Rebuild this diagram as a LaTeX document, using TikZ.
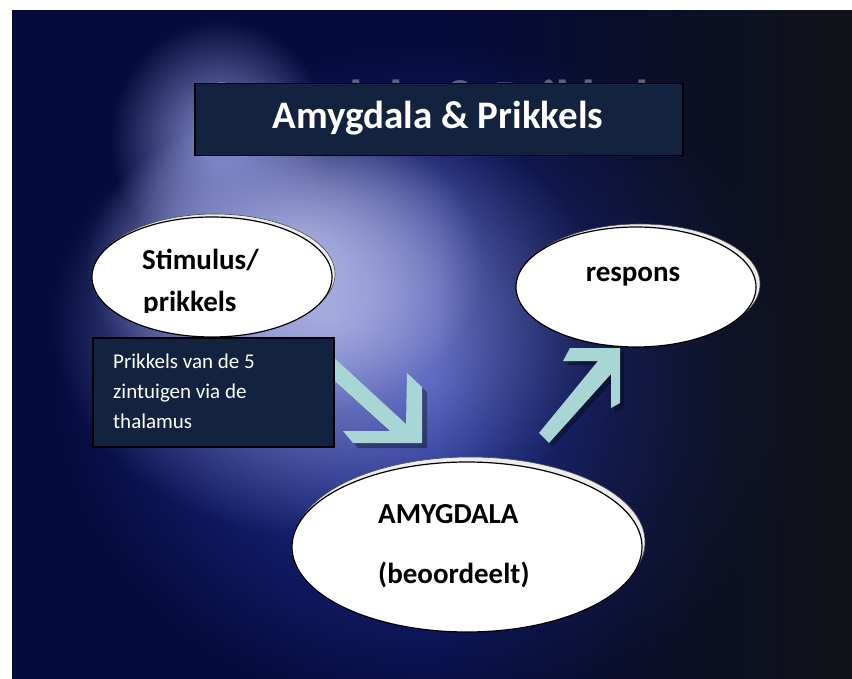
\documentclass[tikz,border=0pt]{standalone}
\usepackage{fontspec}
\setmainfont{Carlito}
\usetikzlibrary{shapes.geometric,fadings}
\definecolor{achtergrond}{HTML}{050B3C}
\definecolor{kader}{HTML}{13233F}
\definecolor{pijl}{HTML}{A8D6D4}
\definecolor{lila}{HTML}{B4B8E6}
\definecolor{blauw}{HTML}{2536A8}
\definecolor{zwart}{HTML}{111317}
\tikzfading[name=gloed, inner color=transparent!0, outer color=transparent!100]
\tikzfading[name=naarrechts, left color=transparent!100, right color=transparent!0]
\tikzset{
  bol/.style={ellipse, draw=black, line width=1.2pt, fill=white, inner sep=0pt},
  schaduw/.style={ellipse, fill=white!85!gray, draw=black!70, line width=0.6pt, inner sep=0pt},
  vak/.style={draw=black, line width=1.5pt, fill=kader, inner sep=0pt, anchor=north west},
  tekst/.style={font=\bfseries\fontsize{29}{34}\selectfont, anchor=base west, inner sep=0pt},
  kleintekst/.style={font=\fontsize{21}{25}\selectfont, text=white, anchor=base west, inner sep=0pt},
}
\begin{document}
\begin{tikzpicture}[x=1pt,y=-1pt]
\useasboundingbox (0,0) rectangle (852,679);
\begin{scope}
\clip (12,10) rectangle (852,679);
\fill[achtergrond] (12,10) rectangle (852,679);
\fill[blauw, path fading=gloed] (430,380) ellipse (380 and 340);
\fill[lila!75!blauw, path fading=gloed] (330,320) ellipse (280 and 220);
\fill[lila, path fading=gloed] (285,265) ellipse (200 and 150);
\fill[lila!70!blauw, path fading=gloed] (220,140) ellipse (110 and 120);
\fill[zwart, path fading=naarrechts] (440,10) rectangle (852,679);
\end{scope}
\node[font=\bfseries\fontsize{55}{60}\selectfont, text=white, opacity=.35, anchor=base] (oudetitel) at (438,119) {Amygdala \& Prikkels};

\fill[black, opacity=.35, shift={(5,5)}] (422,443) -- (422,387) -- (407,373) -- (406,424) -- (318,343) -- (318,366) -- (390,431) -- (343,431) -- (353,443) -- cycle;
\fill[pijl] (422,443) -- (422,387) -- (407,373) -- (406,424) -- (318,343) -- (318,366) -- (390,431) -- (343,431) -- (353,443) -- cycle;
\fill[black, opacity=.35, shift={(4,4)}] (620,348) -- (570,348) -- (563,361) -- (598,361) -- (539,433) -- (549,443) -- (611,374) -- (611,408) -- (620,403) -- cycle;
\fill[pijl] (620,348) -- (570,348) -- (563,361) -- (598,361) -- (539,433) -- (549,443) -- (611,374) -- (611,408) -- (620,403) -- cycle;

\node[schaduw, minimum width=240, minimum height=120] (stimulusschaduw) at (215,274){};
\node[bol, minimum width=240, minimum height=120] (stimulus) at (212,277){};
\begin{scope}
\clip (130,230) rectangle (300,313);
\node[tekst] (stimulustekst) at (142,270) {Stimulus/};
\node[tekst] (prikkelstekst) at (143,312) {prikkels};
\end{scope}

\node[schaduw, minimum width=240, minimum height=120] (responsschaduw) at (640,284){};
\node[bol, minimum width=240, minimum height=120] (respons) at (636,287){};
\node[tekst, anchor=base] (responstekst) at (633,282) {respons};

\node[schaduw, minimum width=350, minimum height=170] (amygdalaschaduw) at (470,542){};
\node[bol, minimum width=350, minimum height=170] (amygdala) at (467,547){};
\node[tekst] (amygdalatekst) at (378,523) {AMYGDALA};
\node[tekst] (beoordeelt) at (378,583) {(beoordeelt)};

\node[vak, minimum width=241, minimum height=109] (zintuigen) at (92,337){};
\node[kleintekst] (regel1) at (113,368) {Prikkels van de 5};
\node[kleintekst] (regel2) at (113,398) {zintuigen via de};
\node[kleintekst] (regel3) at (113,428) {thalamus};

\node[vak, minimum width=488, minimum height=72] (titel) at (194,83){};
\node[font=\bfseries\fontsize{39}{44}\selectfont, text=white, anchor=base, inner sep=0pt] (titeltekst) at (438,129) {Amygdala \& Prikkels};
\end{tikzpicture}
\end{document}
